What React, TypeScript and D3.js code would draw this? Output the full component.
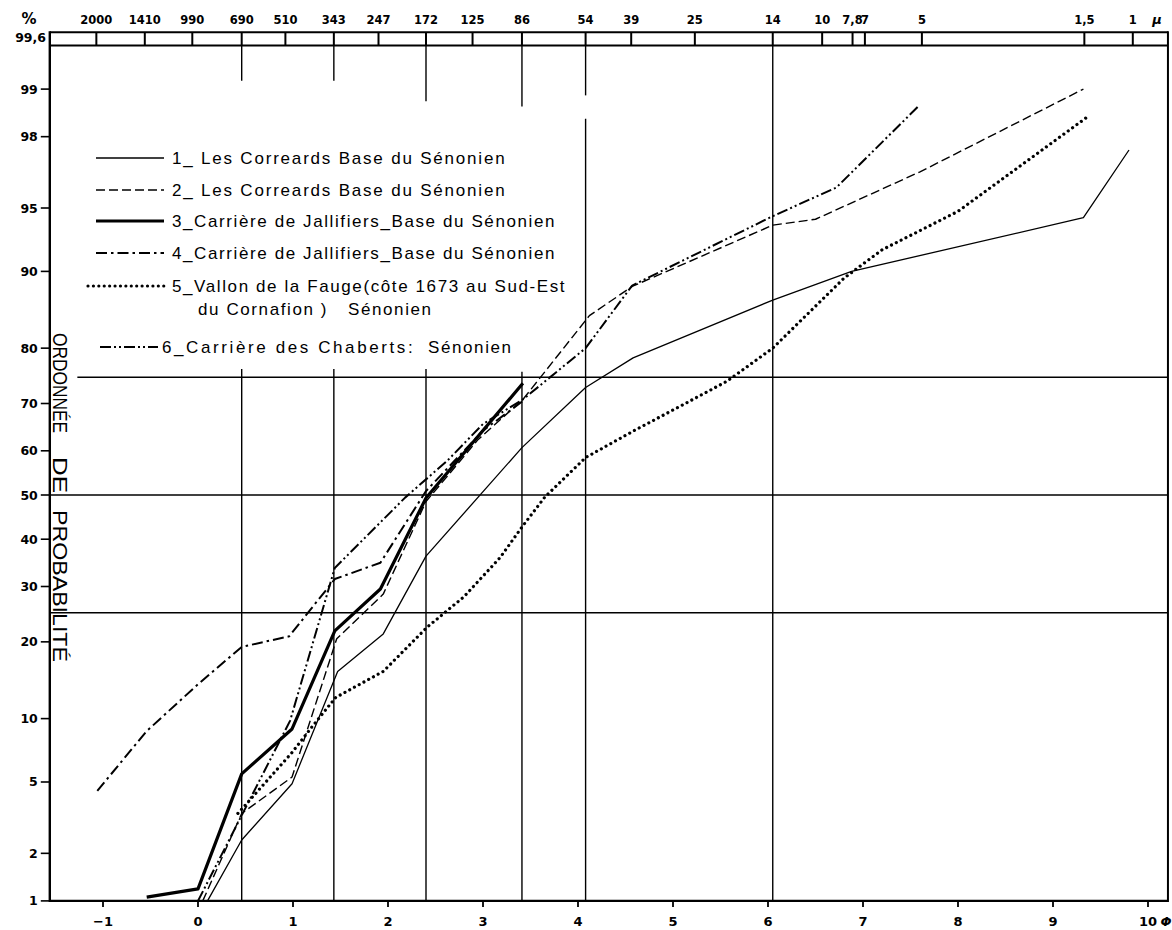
import React from 'react';
import * as d3 from 'd3';

const W = 1172;
const H = 930;

// ---------- data ----------
const xTickValues = [-1, 0, 1, 2, 3, 4, 5, 6, 7, 8, 9, 10];
const yTickValues = [1, 2, 5, 10, 20, 30, 40, 50, 60, 70, 80, 90, 95, 98, 99];
const topTickLabels = ['2000', '1410', '990', '690', '510', '343', '247', '172', '125', '86', '54', '39', '25', '14', '10', '7,8', '7', '5', '1,5', '1'];
const topTickPhi = [-1.07, -0.56, -0.06, 0.46, 0.92, 1.43, 1.9, 2.4, 2.89, 3.41, 4.08, 4.56, 5.23, 6.05, 6.57, 6.89, 7.02, 7.62, 9.33, 9.84];

// quartile lines (percent) and their left start (phi)
const hLineValues = [75, 50, 25];
const hLineStartPhi = [-1.27, -1.56, -1.56];

// vertical reference lines (phi) with visible segments [fromPct, toPct]
const vLinePhi = [0.46, 1.43, 2.4, 3.41, 4.08, 6.05];
const vLineSegments: number[][][] = [
  [[99.5, 99.12], [76.5, 1]],
  [[99.5, 99.12], [76.5, 1]],
  [[99.5, 98.8], [76.5, 1]],
  [[99.5, 98.7], [76.0, 1]],
  [[99.5, 98.9], [98.45, 1]],
  [[99.5, 1]],
];

const series1 = [[0.1, 1.0], [0.46, 2.4], [0.99, 4.9], [1.47, 15.6], [1.95, 21.3], [2.4, 36.3], [3.41, 60.7], [4.08, 73.1], [4.58, 78.4], [6.05, 86.8], [6.88, 90.0], [9.32, 94.4], [9.8, 97.6]];
const series2 = [[0.05, 1.0], [0.46, 3.4], [0.99, 5.3], [1.46, 20.5], [1.95, 28.5], [2.4, 48.5], [2.95, 62.5], [3.42, 70.8], [4.12, 84.8], [4.57, 88.4], [6.05, 93.9], [6.5, 94.3], [7.6, 96.8], [9.32, 99.0]];
const series3 = [[-0.54, 1.06], [0, 1.2], [0.46, 5.5], [0.99, 9.0], [1.44, 21.8], [1.92, 29.5], [2.4, 49.3], [3.42, 73.9]];
const series4 = [[-1.06, 4.5], [-0.54, 8.8], [0, 13.9], [0.46, 19.2], [0.96, 20.9], [1.44, 31.5], [1.92, 34.9], [2.4, 50.9], [3.0, 64.4], [3.42, 70.5]];
const series5 = [[0.42, 3.4], [0.99, 7.0], [1.2, 9.2], [1.45, 12.3], [1.95, 15.6], [2.41, 22.4], [2.8, 28.0], [3.18, 36.0], [3.42, 43.0], [3.65, 49.5], [4.08, 58.5], [4.6, 64.5], [5.05, 69.2], [5.57, 74.3], [6.05, 80.0], [6.8, 89.3], [7.2, 92.0], [8.0, 94.8], [9.37, 98.5]];
const series6 = [[0.0, 1.0], [0.97, 9.8], [1.44, 33.8], [2.18, 49.4], [2.62, 57.7], [3.0, 65.8], [3.42, 70.8], [4.08, 80.0], [4.57, 88.5], [6.05, 94.5], [6.72, 96.1], [7.58, 98.7]];

// legend: main label text, optional trailing word, optional continuation line
const legendMain = [
  '1_ Les Correards Base du Sénonien',
  '2_ Les Correards Base du Sénonien',
  '3_Carrière de Jallifiers_Base du Sénonien',
  '4_Carrière de Jallifiers_Base du Sénonien',
  '5_Vallon de la Fauge(côte 1673 au Sud-Est',
  '6_Carrière des Chaberts:',
];
const legendTail = ['', '', '', '', '', 'Sénonien'];
const legendCont = ['', '', '', '', 'du Cornafion )', ''];
const legendContTail = ['', '', '', '', 'Sénonien', ''];
const yTitleWords = ['ORDONNÉE', 'DE', 'PROBABILITÉ'];

// ---------- helpers ----------
function probit(p: number): number {
  const a = [-3.969683028665376e1, 2.209460984245205e2, -2.759285104469687e2, 1.38357751867269e2, -3.066479806614716e1, 2.506628277459239];
  const b = [-5.447609879822406e1, 1.615858368580409e2, -1.556989798598866e2, 6.680131188771972e1, -1.328068155288572e1];
  const c = [-7.784894002430293e-3, -3.223964580411365e-1, -2.400758277161838, -2.549732539343734, 4.374664141464968, 2.938163982698783];
  const d = [7.784695709041462e-3, 3.224671290700398e-1, 2.445134137142996, 3.754408661907416];
  const plow = 0.02425;
  const phigh = 1 - plow;
  let q: number;
  let r: number;
  if (p < plow) {
    q = Math.sqrt(-2 * Math.log(p));
    return (((((c[0] * q + c[1]) * q + c[2]) * q + c[3]) * q + c[4]) * q + c[5]) / ((((d[0] * q + d[1]) * q + d[2]) * q + d[3]) * q + 1);
  }
  if (p <= phigh) {
    q = p - 0.5;
    r = q * q;
    return ((((((a[0] * r + a[1]) * r + a[2]) * r + a[3]) * r + a[4]) * r + a[5]) * q) / (((((b[0] * r + b[1]) * r + b[2]) * r + b[3]) * r + b[4]) * r + 1);
  }
  q = Math.sqrt(-2 * Math.log(1 - p));
  return -(((((c[0] * q + c[1]) * q + c[2]) * q + c[3]) * q + c[4]) * q + c[5]) / ((((d[0] * q + d[1]) * q + d[2]) * q + d[3]) * q + 1);
}

const x = d3.scaleLinear().domain([-1, 10]).range([103, 1148]);
const zScale = d3.scaleLinear().domain([probit(0.01), probit(0.99)]).range([900.9, 89.1]);
const y = (pct: number) => zScale(probit(pct / 100));

const PHI_LEFT = -1.56;
const PHI_RIGHT = 10.21;
const PCT_BOTTOM = 1;
const PCT_FRAME_TOP = 99.5;
const PCT_BAR_TOP = 99.6;

const lineGen = d3
  .line<number[]>()
  .x((d) => x(d[0]))
  .y((d) => y(d[1]));

const allSeries = [series1, series2, series3, series4, series5, series6];
const styles = [
  { w: 1.3, dash: undefined as string | undefined, cap: 'butt' },
  { w: 1.4, dash: '9 4', cap: 'butt' },
  { w: 3.2, dash: undefined, cap: 'butt' },
  { w: 2, dash: '11 4 2.5 4', cap: 'butt' },
  { w: 3.2, dash: '0.01 5.4', cap: 'round' },
  { w: 2, dash: '11 3 2 3 2 3', cap: 'butt' },
];

const legendY = [158, 190, 221, 253, 286, 347];
const legendLineX = [
  [96, 164],
  [96, 164],
  [96, 164],
  [96, 164],
  [88, 164],
  [100, 158],
];
const legendTextX = [172, 172, 172, 172, 172, 162];
const legendSpacing = [1.8, 1.8, 1.6, 1.6, 1.6, 2.6];
const legendTailX = 428;
const legendContX = 198;
const legendContTailX = 348;

const boldFont = '"DejaVu Sans", sans-serif';
const textFont = '"Liberation Sans", Arial, sans-serif';

export default function App() {
  const left = x(PHI_LEFT);
  const right = x(PHI_RIGHT);
  const bottom = y(PCT_BOTTOM);
  const frameTop = y(PCT_FRAME_TOP);
  const barTop = y(PCT_BAR_TOP);

  return (
    <svg
      width={W}
      height={H}
      viewBox={`0 0 ${W} ${H}`}
      style={{ position: 'absolute', left: 0, top: 0, background: '#fff' }}
    >
      <rect x={0} y={0} width={W} height={H} fill="#fff" />

      {/* top micron bar */}
      <line x1={left} x2={right} y1={barTop} y2={barTop} stroke="#000" strokeWidth={2} />
      <line x1={left} x2={right} y1={frameTop} y2={frameTop} stroke="#000" strokeWidth={2} />
      {topTickPhi.map((p, i) => (
        <g key={'tt' + i}>
          <line x1={x(p)} x2={x(p)} y1={barTop} y2={frameTop} stroke="#000" strokeWidth={2} />
          <text x={x(p)} y={24} fontFamily={boldFont} fontWeight="bold" fontSize={11.5} textAnchor="middle" fill="#000">
            {topTickLabels[i]}
          </text>
        </g>
      ))}
      <text x={29} y={24} fontFamily={boldFont} fontWeight="bold" fontSize={15} textAnchor="middle" fill="#000">%</text>
      <text x={46} y={42} fontFamily={boldFont} fontWeight="bold" fontSize={12.5} textAnchor="end" fill="#000">99,6</text>
      <text x={1157} y={24} fontFamily={boldFont} fontWeight="bold" fontStyle="italic" fontSize={13} textAnchor="middle" fill="#000">μ</text>

      {/* quartile horizontal lines */}
      {hLineValues.map((v, i) => (
        <line key={'h' + i} x1={x(hLineStartPhi[i])} x2={right} y1={y(v)} y2={y(v)} stroke="#000" strokeWidth={1.4} />
      ))}

      {/* vertical reference lines */}
      {vLinePhi.map((p, i) =>
        vLineSegments[i].map((seg, j) => (
          <line key={'v' + i + '_' + j} x1={x(p)} x2={x(p)} y1={y(seg[0])} y2={y(seg[1])} stroke="#000" strokeWidth={1.4} />
        ))
      )}

      {/* frame */}
      <line x1={left} x2={left} y1={barTop - 1} y2={bottom + 1} stroke="#000" strokeWidth={2.4} />
      <line x1={right} x2={right} y1={barTop - 1} y2={bottom + 1} stroke="#000" strokeWidth={2} />
      <line x1={left} x2={right} y1={bottom} y2={bottom} stroke="#000" strokeWidth={2.4} />

      {/* y ticks */}
      {yTickValues.map((v) => (
        <g key={'yt' + v}>
          <line x1={left - 9} x2={left} y1={y(v)} y2={y(v)} stroke="#000" strokeWidth={1.6} />
          <text x={left - 12} y={y(v)} dy="0.36em" fontFamily={boldFont} fontWeight="bold" fontSize={12.5} textAnchor="end" fill="#000">
            {v}
          </text>
        </g>
      ))}

      {/* x ticks */}
      {xTickValues.map((v) => (
        <g key={'xt' + v}>
          <line x1={x(v)} x2={x(v)} y1={bottom} y2={bottom + 6} stroke="#000" strokeWidth={1.8} />
          <text x={x(v)} y={926} fontFamily={boldFont} fontWeight="bold" fontSize={13} textAnchor="middle" fill="#000">
            {v < 0 ? '−' + Math.abs(v) : String(v)}
          </text>
        </g>
      ))}
      <text x={1166} y={926} fontFamily={boldFont} fontWeight="bold" fontStyle="italic" fontSize={13} textAnchor="middle" fill="#000">Φ</text>

      {/* y axis title */}
      {[
        [333, 433],
        [457, 493],
        [510, 662],
      ].map((span, i) => (
        <text
          key={'yt_title' + i}
          transform={`translate(53, ${span[0]}) rotate(90)`}
          fontFamily={textFont}
          fontSize={21}
          textLength={span[1] - span[0]}
          lengthAdjust="spacingAndGlyphs"
          fill="#000"
        >
          {yTitleWords[i]}
        </text>
      ))}

      {/* data lines */}
      {allSeries.map((s, i) => (
        <path
          key={'s' + i}
          d={lineGen(s) || ''}
          fill="none"
          stroke="#000"
          strokeWidth={styles[i].w}
          strokeDasharray={styles[i].dash}
          strokeLinecap={styles[i].cap as any}
          strokeLinejoin="round"
        />
      ))}

      {/* legend */}
      {legendMain.map((t, i) => (
        <g key={'lg' + i}>
          <line
            x1={legendLineX[i][0]}
            x2={legendLineX[i][1]}
            y1={legendY[i]}
            y2={legendY[i]}
            stroke="#000"
            strokeWidth={styles[i].w}
            strokeDasharray={styles[i].dash}
            strokeLinecap={styles[i].cap as any}
          />
          <text x={legendTextX[i]} y={legendY[i]} dy="0.36em" fontFamily={textFont} fontSize={17} letterSpacing={legendSpacing[i]} fill="#000">
            {t}
          </text>
          {legendTail[i] && (
            <text x={legendTailX} y={legendY[i]} dy="0.36em" fontFamily={textFont} fontSize={17} letterSpacing={1.6} fill="#000">
              {legendTail[i]}
            </text>
          )}
          {legendCont[i] && (
            <text x={legendContX} y={legendY[i] + 23} dy="0.36em" fontFamily={textFont} fontSize={17} letterSpacing={1.6} fill="#000">
              {legendCont[i]}
            </text>
          )}
          {legendContTail[i] && (
            <text x={legendContTailX} y={legendY[i] + 23} dy="0.36em" fontFamily={textFont} fontSize={17} letterSpacing={1.6} fill="#000">
              {legendContTail[i]}
            </text>
          )}
        </g>
      ))}
    </svg>
  );
}
